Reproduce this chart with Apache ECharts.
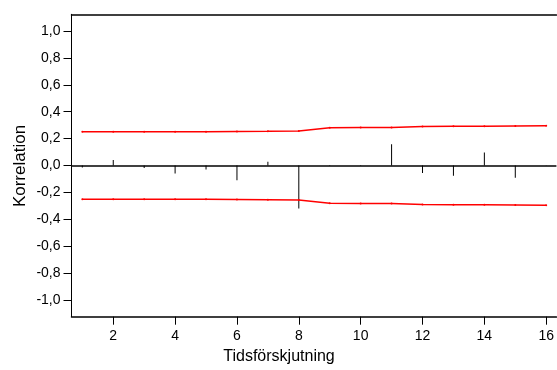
<!DOCTYPE html>
<html><head><meta charset="utf-8">
<script src="https://cdn.jsdelivr.net/npm/echarts@6/dist/echarts.min.js"></script>
<style>html,body{margin:0;padding:0;background:#fff}#c{width:557px;height:370px}</style>
</head><body><div id="c"></div>
<script>
const lags = [1, 2, 3, 4, 5, 6, 7, 8, 9, 10, 11, 12, 13, 14, 15, 16];
const acfValues = [-0.015, 0.04, -0.018, -0.06, -0.03, -0.11, 0.027, -0.32, -0.004, 0.004, 0.158, -0.055, -0.077, 0.097, -0.092, 0.002];
const upperLimit = [0.252, 0.252, 0.252, 0.252, 0.252, 0.253, 0.254, 0.257, 0.281, 0.282, 0.283, 0.291, 0.292, 0.292, 0.293, 0.295];
const lowerLimit = [-0.252, -0.252, -0.252, -0.252, -0.252, -0.253, -0.254, -0.257, -0.281, -0.282, -0.283, -0.291, -0.292, -0.292, -0.293, -0.295];
const xTickValues = [2, 4, 6, 8, 10, 12, 14, 16];
const yTickValues = [-1.0, -0.8, -0.6, -0.4, -0.2, 0.0, 0.2, 0.4, 0.6, 0.8, 1.0];
const xTitle = 'Tidsförskjutning';
const yTitle = 'Korrelation';

const FONT = "'Liberation Sans', Arial, sans-serif";
const chart = echarts.init(document.getElementById('c'), null, {renderer: 'canvas'});
const xMin = 0.65, xMax = 16.33;
chart.setOption({
  animation: false,
  backgroundColor: '#fff',
  grid: {left: 71.5, top: 14.3, width: 485.5, height: 302.4, containLabel: false},
  xAxis: [{
    type: 'value', min: xMin, max: xMax, position: 'bottom',
    axisLine: {show: true, onZero: false, lineStyle: {color: '#000', width: 1.5}},
    axisTick: {show: true, customValues: xTickValues, length: 8, lineStyle: {color: '#000', width: 1}},
    axisLabel: {show: true, customValues: xTickValues, fontSize: 14, fontFamily: FONT, color: '#000', margin: 12},
    splitLine: {show: false}
  }, {
    type: 'value', min: xMin, max: xMax, position: 'top',
    axisLine: {show: true, onZero: false, lineStyle: {color: '#000', width: 1.5}},
    axisTick: {show: false}, axisLabel: {show: false}, splitLine: {show: false}
  }],
  yAxis: {
    type: 'value', min: -1.125, max: 1.125,
    axisLine: {show: true, onZero: false, lineStyle: {color: '#000', width: 1}},
    axisTick: {show: true, customValues: yTickValues, length: 8, lineStyle: {color: '#000', width: 1}},
    axisLabel: {show: true, customValues: yTickValues, fontSize: 14, fontFamily: FONT, color: '#000', margin: 11,
      formatter: v => v.toFixed(1).replace('.', ',')},
    splitLine: {show: false}
  },
  series: [{
    type: 'bar', xAxisIndex: 0,
    data: lags.map((l, i) => [l, acfValues[i]]),
    barWidth: 1, itemStyle: {color: '#000'},
    markLine: {silent: true, symbol: 'none', label: {show: false},
      lineStyle: {color: '#000', width: 1.5, type: 'solid'},
      data: [{yAxis: 0}]}
  }, {
    type: 'line', xAxisIndex: 0,
    data: lags.map((l, i) => [l, upperLimit[i]]),
    symbol: 'circle', symbolSize: 2, showSymbol: true,
    lineStyle: {color: '#ff0000', width: 1.5}, itemStyle: {color: '#ff0000'}
  }, {
    type: 'line', xAxisIndex: 0,
    data: lags.map((l, i) => [l, lowerLimit[i]]),
    symbol: 'circle', symbolSize: 2, showSymbol: true,
    lineStyle: {color: '#ff0000', width: 1.5}, itemStyle: {color: '#ff0000'}
  }],
  graphic: [{
    type: 'text', x: 279, y: 357,
    style: {text: xTitle, font: '16px ' + FONT, fill: '#000', align: 'center', verticalAlign: 'middle'}
  }, {
    type: 'text', x: 20.5, y: 166, rotation: Math.PI / 2,
    style: {text: yTitle, font: '17px ' + FONT, fill: '#000', align: 'center', verticalAlign: 'middle'}
  }]
});
</script>
</body></html>
